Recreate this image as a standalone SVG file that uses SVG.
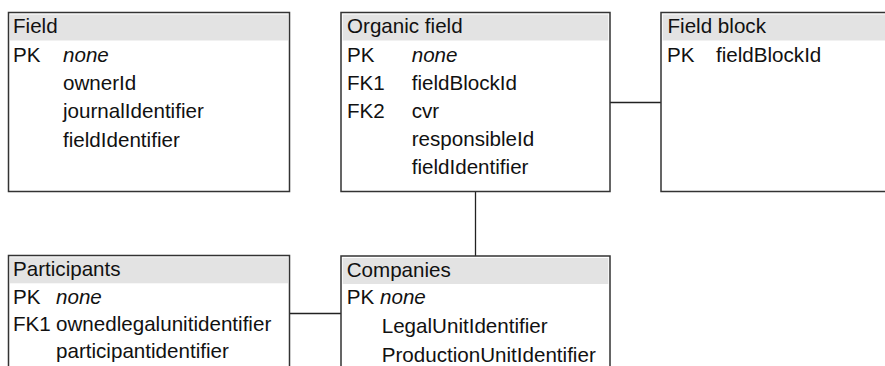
<svg xmlns="http://www.w3.org/2000/svg" width="885" height="366" viewBox="0 0 885 366">
<style>
.box{fill:#fff;stroke:#333;stroke-width:1.5}
.hdr{fill:#e3e3e3;stroke:none}
text{font-family:"Liberation Sans",Arial,Helvetica,sans-serif;font-size:20.6px;fill:#111}
.it{font-style:italic}
.conn{stroke:#222;stroke-width:1.3;fill:none}
</style>
<rect width="885" height="366" fill="#fff"/>
<g id="connectors">
<line class="conn" x1="610" y1="102.5" x2="661" y2="102.5"/>
<line class="conn" x1="475.5" y1="191.5" x2="475.5" y2="256"/>
<line class="conn" x1="289" y1="313.5" x2="341" y2="313.5"/>
</g>
<g id="field">
<rect class="box" x="8.5" y="12.5" width="281" height="179"/>
<rect class="hdr" x="10" y="14.5" width="278" height="26"/>
<text x="13" y="32.7">Field</text>
<text x="13" y="61.7">PK</text>
<text class="it" x="63" y="61.7">none</text>
<text x="63" y="90">ownerId</text>
<text x="63" y="118.3">journalIdentifier</text>
<text x="63" y="146.7">fieldIdentifier</text>
</g>
<g id="organic-field">
<rect class="box" x="341" y="12.5" width="269" height="179"/>
<rect class="hdr" x="342.7" y="14.5" width="265.6" height="26"/>
<text x="347" y="32.7">Organic field</text>
<text x="347" y="61.7">PK</text>
<text class="it" x="411.7" y="61.7">none</text>
<text x="347" y="90">FK1</text>
<text x="411.7" y="90">fieldBlockId</text>
<text x="347" y="117.5">FK2</text>
<text x="411.7" y="117.5">cvr</text>
<text x="411.7" y="145.7">responsibleId</text>
<text x="411.7" y="174">fieldIdentifier</text>
</g>
<g id="field-block">
<rect class="box" x="661" y="12.5" width="240" height="179"/>
<rect class="hdr" x="662.7" y="14.5" width="240" height="26"/>
<text x="667.5" y="32.7">Field block</text>
<text x="667" y="61.7">PK</text>
<text x="716" y="61.7">fieldBlockId</text>
</g>
<g id="participants">
<rect class="box" x="8.5" y="255.5" width="281" height="140"/>
<rect class="hdr" x="10" y="257.3" width="278" height="26"/>
<text x="13" y="275.7">Participants</text>
<text x="13" y="303.5">PK</text>
<text class="it" x="56" y="303.5">none</text>
<text x="13" y="330.5">FK1</text>
<text x="56" y="330.5">ownedlegalunitidentifier</text>
<text x="56" y="357.7">participantidentifier</text>
</g>
<g id="companies">
<rect class="box" x="341" y="256" width="269" height="140"/>
<rect class="hdr" x="342.7" y="258" width="265.6" height="26"/>
<text x="346.7" y="276.5">Companies</text>
<text x="346.7" y="304">PK</text>
<text class="it" x="380" y="304">none</text>
<text x="381.7" y="332.7">LegalUnitIdentifier</text>
<text x="381.7" y="361.5">ProductionUnitIdentifier</text>
</g>
</svg>
